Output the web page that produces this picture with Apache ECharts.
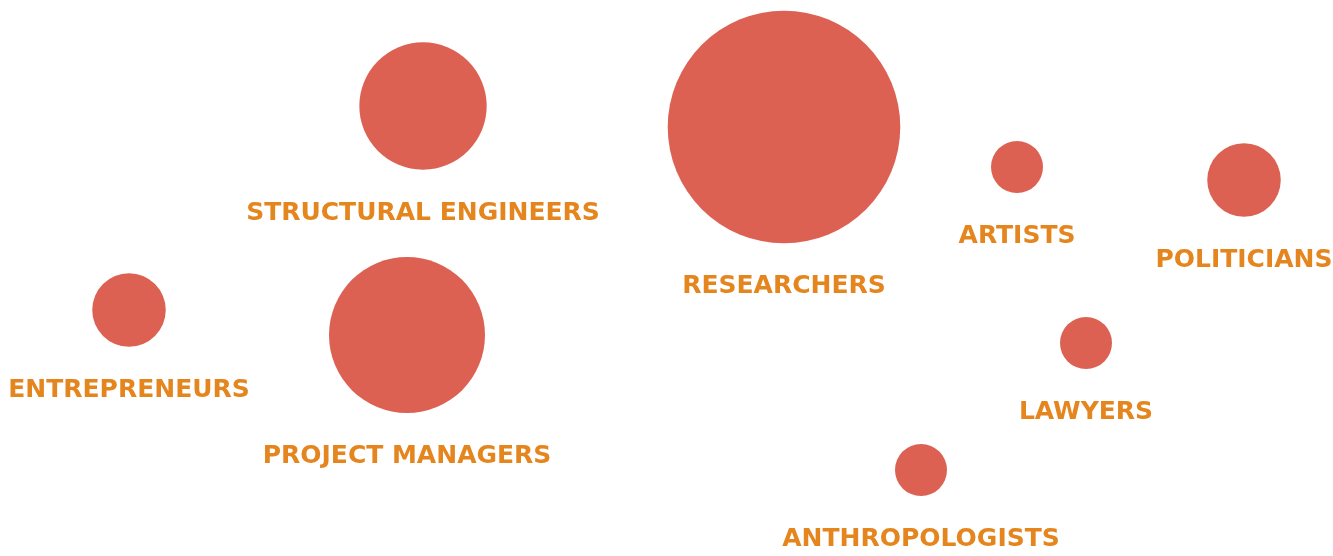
<!DOCTYPE html>
<html>
<head>
    <meta charset="utf-8">
    <title>Professions</title>
    <script src="https://cdn.jsdelivr.net/npm/echarts@6/dist/echarts.min.js"></script>
    <style>
        html, body { margin: 0; padding: 0; background: #fff; }
        #chart { width: 1333px; height: 556px; }
    </style>
</head>
<body>
<div id="chart"></div>
<script>
// 职业名称
var names = ['STRUCTURAL ENGINEERS', 'RESEARCHERS', 'ARTISTS', 'POLITICIANS',
             'ENTREPRENEURS', 'PROJECT MANAGERS', 'LAWYERS', 'ANTHROPOLOGISTS'];
// 气泡位置 (横向 0-1333, 纵向 0-556 从上往下)
var posX = [423, 784, 1017, 1244, 129, 407, 1086, 921];
var posY = [106, 127, 167, 180, 310, 335, 343, 470];
// 气泡大小 (相对数量)
var sizes = [6, 20, 1, 2, 2, 9, 1, 1];

var chart = echarts.init(document.getElementById('chart'));

var points = [];
for (var i = 0; i < names.length; i++) {
    points.push({ name: names[i], value: [posX[i], posY[i], sizes[i]] });
}

var option = {
    backgroundColor: '#ffffff',
    animation: false,
    grid: { left: 0, right: 0, top: 0, bottom: 0 },
    xAxis: { type: 'value', min: 0, max: 1333, show: false },
    yAxis: { type: 'value', min: 0, max: 556, inverse: true, show: false },
    series: [{
        type: 'scatter',
        data: points,
        symbolSize: function (v) {
            return 52 * Math.sqrt(v[2]);
        },
        itemStyle: { color: '#DC6152', opacity: 1 },
        label: {
            show: true,
            position: 'bottom',
            distance: 31,
            formatter: '{b}',
            color: '#E5851E',
            fontFamily: 'DejaVu Sans',
            fontWeight: 'bold',
            fontSize: 25
        }
    }]
};

chart.setOption(option);
</script>
</body>
</html>
